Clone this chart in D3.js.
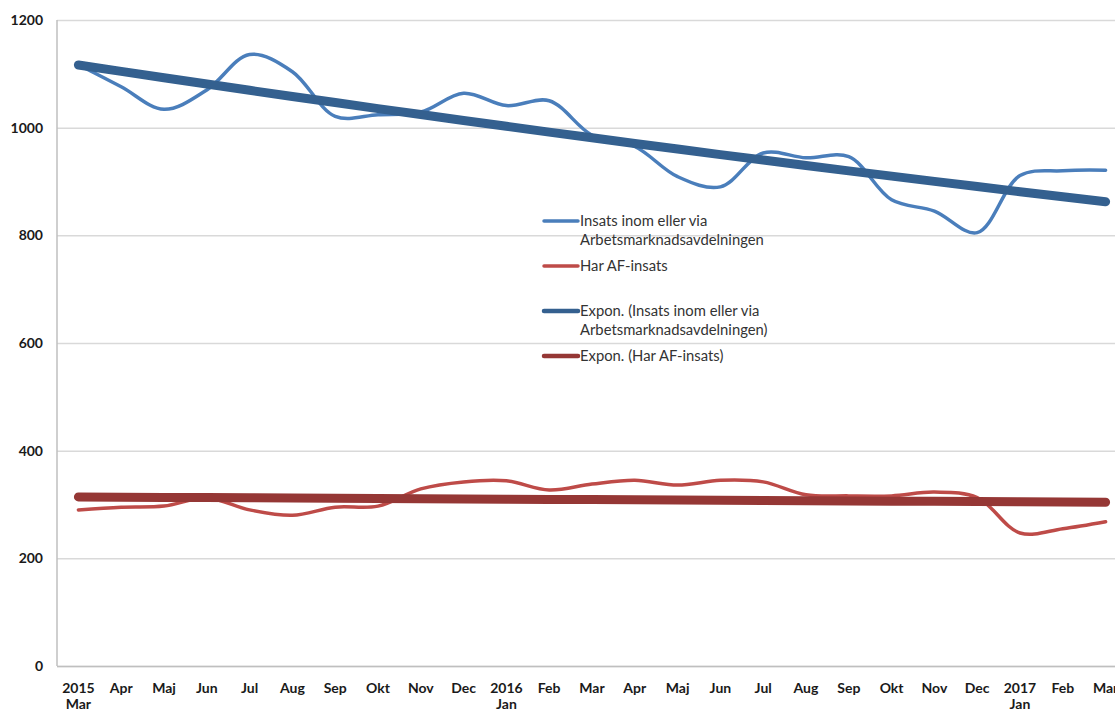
<!DOCTYPE html>
<html><head><meta charset="utf-8">
<script src="https://cdn.jsdelivr.net/npm/d3@7"></script>
<style>html,body{margin:0;padding:0;background:#fff;overflow:hidden}svg{display:block}</style>
</head><body>
<svg id="c" width="1115" height="711"></svg>
<script>
const months = ["Mar","Apr","Maj","Jun","Jul","Aug","Sep","Okt","Nov","Dec","Jan","Feb","Mar","Apr","Maj","Jun","Jul","Aug","Sep","Okt","Nov","Dec","Jan","Feb","Mar"];
const tickTop = ["2015","Apr","Maj","Jun","Jul","Aug","Sep","Okt","Nov","Dec","2016","Feb","Mar","Apr","Maj","Jun","Jul","Aug","Sep","Okt","Nov","Dec","2017","Feb","Mar"];
const tickBottom = ["Mar","","","","","","","","","","Jan","","","","","","","","","","","","Jan","",""];
const insats = [1117,1076,1034,1070,1136,1104,1021,1024,1029,1064,1041,1050,986,965,909,890,953,944,946,866,845,805,911,920,921];
const harAF = [290,295,297,312,290,280,295,297,329,342,344,327,338,345,336,345,342,318,316,316,323,313,247,255,268];
const yTicks = [0,200,400,600,800,1000,1200];
const legendItems = [
  {lines:["Insats inom eller via","Arbetsmarknadsavdelningen"], color:"#4a7ebb", w:3.5},
  {lines:["Har AF-insats"], color:"#be4b48", w:3.5},
  {lines:["Expon. (Insats inom eller via","Arbetsmarknadsavdelningen)"], color:"#34608f", w:4.5},
  {lines:["Expon. (Har AF-insats)"], color:"#953735", w:4.5}
];

function expFit(vals){
  const n = vals.length; let sx=0,sy=0,sxx=0,sxy=0;
  vals.forEach((v,i)=>{const x=i+1,y=Math.log(v);sx+=x;sy+=y;sxx+=x*x;sxy+=x*y;});
  const b=(n*sxy-sx*sy)/(n*sxx-sx*sx); const a=(sy-b*sx)/n;
  return vals.map((v,i)=>Math.exp(a+b*(i+1)));
}
const insatsTrend = expFit(insats);
const harTrend = expFit(harAF);

const svg = d3.select("#c");
const L=57, T=20, B=666, R=1127;
const idx = d3.range(months.length);
const x = d3.scalePoint().domain(idx).range([L,R]).padding(0.5);
const y = d3.scaleLinear().domain([0,1200]).range([B,T]);

svg.append("g").selectAll("line").data(yTicks).join("line")
  .attr("x1",L).attr("x2",R).attr("y1",d=>y(d)+0.5).attr("y2",d=>y(d)+0.5)
  .attr("stroke","#d9d9d9").attr("stroke-width",1.5);
svg.append("line").attr("x1",L).attr("x2",L).attr("y1",T).attr("y2",B).attr("stroke","#bfbfbf").attr("stroke-width",1.5);
svg.append("line").attr("x1",L).attr("x2",R).attr("y1",B+0.5).attr("y2",B+0.5).attr("stroke","#bfbfbf").attr("stroke-width",1.5);

const font = "Lato, 'Open Sans', sans-serif";
const ya = d3.axisLeft(y).tickValues(yTicks).tickFormat(d3.format("d")).tickSize(0).tickPadding(14);
const gy = svg.append("g").attr("transform",`translate(${L},0)`).call(ya);
gy.select(".domain").remove();
gy.selectAll("text").attr("font-family",font).attr("font-weight","bold").attr("font-size",14).attr("fill","#1a1a1a");

const gx = svg.append("g");
gx.selectAll("text.t").data(idx).join("text").attr("class","t")
  .attr("x",d=>x(d)).attr("y",693).attr("text-anchor","middle")
  .attr("font-family",font).attr("font-weight","bold").attr("font-size",14).attr("fill","#1a1a1a")
  .text(d=>tickTop[d]);
gx.selectAll("text.b").data(idx.filter(d=>tickBottom[d])).join("text").attr("class","b")
  .attr("x",d=>x(d)).attr("y",709).attr("text-anchor","middle")
  .attr("font-family",font).attr("font-weight","bold").attr("font-size",14).attr("fill","#1a1a1a")
  .text(d=>tickBottom[d]);

const smooth = d3.line().x((d,i)=>x(i)).y(d=>y(d)).curve(d3.curveCatmullRom.alpha(0.5));
const straight = d3.line().x((d,i)=>x(i)).y(d=>y(d));

svg.append("path").datum(harAF).attr("d",smooth).attr("fill","none").attr("stroke","#be4b48").attr("stroke-width",3.5).attr("stroke-linecap","round");
svg.append("path").datum(insats).attr("d",smooth).attr("fill","none").attr("stroke","#4a7ebb").attr("stroke-width",3.5).attr("stroke-linecap","round");
svg.append("path").datum(harTrend).attr("d",straight).attr("fill","none").attr("stroke","#953735").attr("stroke-width",9).attr("stroke-linecap","round");
svg.append("path").datum(insatsTrend).attr("d",straight).attr("fill","none").attr("stroke","#34608f").attr("stroke-width",9).attr("stroke-linecap","round");

const legY = [221,266,311,356];
const lg = svg.append("g");
legendItems.forEach((it,i)=>{
  lg.append("line").attr("x1",544).attr("x2",578).attr("y1",legY[i]).attr("y2",legY[i])
    .attr("stroke",it.color).attr("stroke-width",it.w).attr("stroke-linecap","round");
  it.lines.forEach((t,j)=>{
    lg.append("text").attr("x",580).attr("y",legY[i]+5+j*19)
      .attr("font-family",font).attr("font-size",14.8).attr("fill","#333").text(t);
  });
});
</script>
</body></html>
